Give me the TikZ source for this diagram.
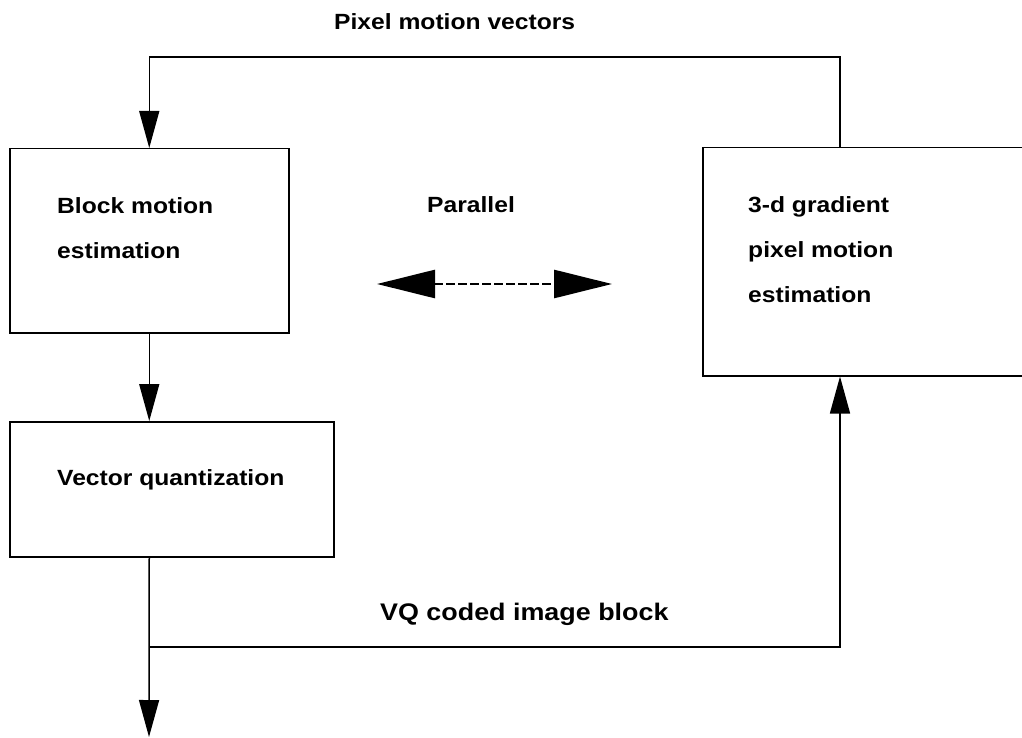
\documentclass[tikz,border=0pt]{standalone}
\usepackage{fontspec}
\setmainfont{Liberation Sans}[FakeStretch=1.12]
\usetikzlibrary{arrows.meta}
\begin{document}
\begin{tikzpicture}[x=1pt,y=-1pt,
  box/.style={draw=black, line width=1.5pt, rectangle, inner sep=0pt, anchor=north west},
  lbl/.style={inner sep=0pt, anchor=base west, font=\fontsize{22}{45}\selectfont\bfseries},
  conn/.style={draw=black, line width=1.5pt},
  arr/.style={conn, -{Triangle[length=37pt,width=20pt]}},
  par/.style={draw=black, line width=2.6pt, dash pattern=on 9pt off 3pt,
    {Triangle[length=58pt,width=28pt]}-{Triangle[length=58pt,width=28pt]}}]
\fill[white] (0,0) rectangle (1022,738);
\useasboundingbox (0,0) rectangle (1022,738);
\clip (0,0) rectangle (1022,738);

% boxes
\node[box, minimum width=279pt, minimum height=184pt] (bme) at (9,148) {};
\node[box, minimum width=324pt, minimum height=135pt] (vq) at (9,421) {};
\node[box, minimum width=360pt, minimum height=228pt] (g3d) at (702,147) {};

% texts
\node[lbl] (tpix) at (334,30) {Pixel motion vectors};
\node[lbl] (tbme) at (57,213) {\begin{tabular}[t]{@{}l@{}}Block motion\\estimation\end{tabular}};
\node[lbl] (tpar) at (427,212) {Parallel};
\node[lbl] (tg3d) at (748,212) {\begin{tabular}[t]{@{}l@{}}3-d gradient\\pixel motion\\estimation\end{tabular}};
\node[lbl] (tvq) at (57,485) {Vector quantization};
\node[lbl, font=\fontsize{24}{45}\selectfont\bfseries] (tvqc) at (380,620) {VQ coded image block};

% helper coordinates
\coordinate (gx) at (840,0);
\coordinate (top) at (0,57);
\coordinate (bus) at (0,647);
\coordinate (out) at (149,737);
\coordinate (pl) at (377,284);
\coordinate (pr) at (612,284);

% connectors
\draw[arr] (gx |- g3d.north) |- (top -| bme.north) -- (bme.north);
\draw[arr] (bme.south) -- (bme.south |- vq.north);
\draw[arr] (bme.south |- vq.south) -- (out);
\draw[arr] (bme.south |- bus) -| (gx |- g3d.south);
\draw[par] (pl) -- (pr);
\end{tikzpicture}
\end{document}
